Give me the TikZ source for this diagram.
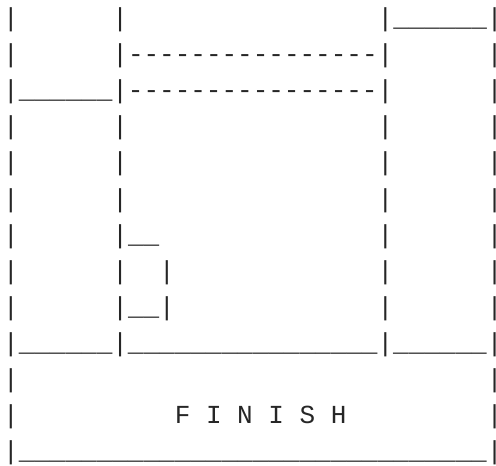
\documentclass[tikz,border=0pt]{standalone}
\usepackage{fontspec}
\setmonofont{Liberation Mono}
\usepackage{tikz}
\usetikzlibrary{positioning}

% repeat a character n times
\newcommand{\rpt}[2]{\foreach \k in {1,...,#1}{#2}}

\tikzset{
  %% one line of the ascii drawing
  asciirow/.style={
    anchor=base west, inner sep=0pt, outer sep=0pt,
    font=\ttfamily\fontsize{26}{26}\selectfont, text=black!85
  },
}

\begin{document}
\begin{tikzpicture}[x=1pt, y=-1pt]

  \useasboundingbox (0,0) rectangle (496,466);

  %% top part: left column, middle block, right column
  \node[asciirow] (row1)  at (3.2, 26.6)
    {|\rpt{6}{~}|\rpt{16}{~}|\rpt{6}{\_}|};
  \node[asciirow] (row2)  at (3.2, 62.7)
    {|\rpt{6}{~}|\rpt{16}{-}|\rpt{6}{~}|};
  \node[asciirow] (row3)  at (3.2, 98.8)
    {|\rpt{6}{\_}|\rpt{16}{-}|\rpt{6}{~}|};
  \node[asciirow] (row4)  at (3.2, 134.8)
    {|\rpt{6}{~}|\rpt{16}{~}|\rpt{6}{~}|};
  \node[asciirow] (row5)  at (3.2, 170.9)
    {|\rpt{6}{~}|\rpt{16}{~}|\rpt{6}{~}|};
  \node[asciirow] (row6)  at (3.2, 207.0)
    {|\rpt{6}{~}|\rpt{16}{~}|\rpt{6}{~}|};

  %% small box in the middle block
  \node[asciirow] (row7)  at (3.2, 243.1)
    {|\rpt{6}{~}|\_\_\rpt{14}{~}|\rpt{6}{~}|};
  \node[asciirow] (row8)  at (3.2, 279.2)
    {|\rpt{6}{~}|~~|\rpt{13}{~}|\rpt{6}{~}|};
  \node[asciirow] (row9)  at (3.2, 315.2)
    {|\rpt{6}{~}|\_\_|\rpt{13}{~}|\rpt{6}{~}|};
  \node[asciirow] (row10) at (3.2, 351.3)
    {|\rpt{6}{\_}|\rpt{16}{\_}|\rpt{6}{\_}|};

  %% finish strip
  \node[asciirow] (row11) at (3.2, 387.4)
    {|\rpt{30}{~}|};
  \node[asciirow] (row12) at (3.2, 423.5)
    {|\rpt{10}{~}F~I~N~I~S~H\rpt{9}{~}|};
  \node[asciirow] (row13) at (3.2, 459.6)
    {|\rpt{30}{\_}|};

\end{tikzpicture}
\end{document}
